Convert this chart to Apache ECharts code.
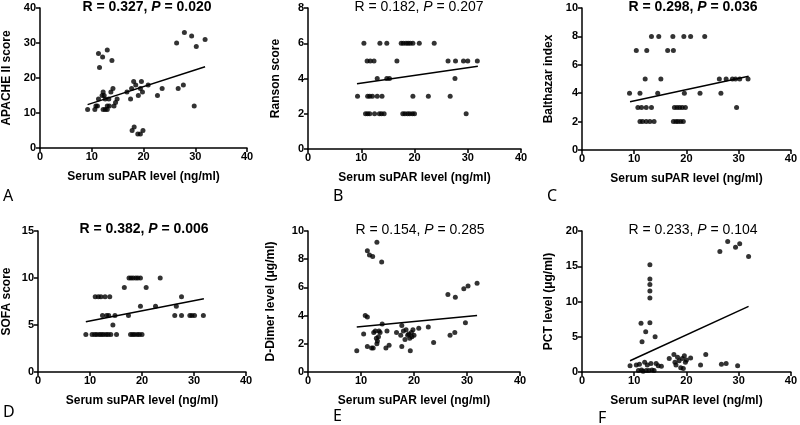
<!DOCTYPE html>
<html><head><meta charset="utf-8">
<script src="https://cdn.jsdelivr.net/npm/echarts@6/dist/echarts.min.js"></script>
<style>html,body{margin:0;padding:0;background:#fff}#c{width:800px;height:425px}</style>
</head><body><div id="c"></div>
<script>
// ---- data ----
const xTicks = [0, 10, 20, 30, 40];
const apacheData = [[9.2,11],[10.6,11],[10.8,12],[11.1,12],[11.3,14],[11.3,27],[11.5,23],[12.1,26],[13.0,28],[13.9,25],
[12.0,15],[12.2,16],[12.4,15],[12.6,14],[12.2,11],[12.6,11],[13.0,12],[13.0,11],[13.3,14],[13.4,12],[13.7,16],[14.1,17],[14.3,12],[14.6,13],[14.9,14],
[16.8,16],[17.5,14],[17.7,17],[18.1,19],[18.5,18],[19.0,15],[19.6,19],[19.4,17],[19.8,16],[20.9,18],[22.7,15],[23.6,17],
[17.8,5],[18.2,6],[18.9,4],[19.4,4],[19.9,5],
[26.4,30],[27.9,33],[29.3,32],[30.2,29],[31.9,31],[26.7,17],[27.7,18],[29.8,12]];
const apacheFit = [[9.2,12.4],[31.9,23.2]];

const ransonData = [[10.5,6],[13.5,6],[14.8,6],[17.5,6],[17.9,6],[18.4,6],[18.8,6],[19.2,6],[19.7,6],[20.9,6],[23.7,6],
[11.1,5],[11.7,5],[12.4,5],[16.7,5],[26.3,5],[27.7,5],[29.2,5],[30.0,5],[31.8,5],
[13.0,4],[14.8,4],[15.3,4],[27.6,4],
[9.3,3],[11.2,3],[11.6,3],[12.1,3],[13.0,3],[13.9,3],[19.7,3],[22.6,3],[26.7,3],
[10.8,2],[11.2,2],[11.6,2],[12.5,2],[13.4,2],[13.8,2],[14.3,2],[17.8,2],[18.2,2],[18.7,2],[19.1,2],[19.6,2],[20.0,2],[29.7,2]];
const ransonFit = [[9.2,3.7],[31.9,4.7]];

const balthazarData = [[13.3,8],[14.7,8],[17.4,8],[19.5,8],[20.8,8],[23.5,8],
[10.4,7],[12.4,7],[16.4,7],[17.5,7],
[12.1,5],[15.1,5],[26.3,5],[27.6,5],[28.8,5],[29.4,5],[30.2,5],[31.8,5],
[9.1,4],[11.1,4],[14.5,4],[19.6,4],[22.6,4],[26.6,4],
[10.7,3],[11.4,3],[12.3,3],[13.3,3],[17.7,3],[18.2,3],[18.7,3],[19.2,3],[19.8,3],[29.6,3],
[11.1,2],[11.6,2],[12.3,2],[13.0,2],[13.8,2],[17.5,2],[18.0,2],[18.4,2],[18.9,2],[19.4,2]];
const balthazarFit = [[9.2,3.4],[31.9,5.2]];

const sofaData = [[17.5,10],[17.9,10],[18.3,10],[18.8,10],[19.2,10],[19.7,10],[23.5,10],
[16.6,9],[20.8,9],
[11.0,8],[11.6,8],[12.1,8],[12.9,8],[13.8,8],[27.6,8],
[19.7,7],[22.6,7],[26.6,7],
[12.4,6],[13.2,6],[13.6,6],[14.8,6],[17.4,6],[26.3,6],[27.6,6],[29.2,6],[29.6,6],[30.1,6],[31.8,6],
[14.4,5],
[9.2,4],[10.4,4],[10.9,4],[11.3,4],[11.8,4],[12.2,4],[12.6,4],[13.1,4],[13.5,4],[14.0,4],[15.1,4],[17.8,4],[18.2,4],[18.6,4],[19.1,4],[19.5,4],[20.0,4]];
const sofaFit = [[9.2,5.35],[31.9,7.8]];

const ddimerData = [[9.2,1.5],[10.5,2.7],[10.8,4.0],[11.2,3.9],[11.2,1.8],[11.2,8.6],[11.6,8.3],[12.2,8.2],[13.0,9.2],[13.9,7.8],
[12.0,1.7],[12.3,1.7],[12.4,2.8],[12.7,2.9],[12.9,2.4],[13.0,2.0],[13.1,2.2],[13.3,2.5],[13.4,2.9],[13.6,2.8],[14.0,3.4],[14.7,1.7],[15.3,1.9],[14.9,2.9],
[16.7,2.8],[17.5,2.6],[17.7,3.3],[17.7,1.8],[18.0,2.9],[18.3,2.3],[18.5,3.0],[18.8,2.6],[19.0,2.7],[19.2,2.4],[19.3,1.5],[19.5,2.8],[19.6,2.5],[19.8,3.0],[20.0,2.6],
[20.9,3.1],[22.7,3.2],[23.7,2.1],[26.4,5.5],[26.8,2.6],[27.7,2.8],[27.8,5.3],[29.4,5.9],[29.7,3.5],[30.2,6.1],[31.9,6.3]];
const ddimerFit = [[9.2,3.2],[31.9,4.0]];

const pctData = [[9.2,0.9],[10.4,1.0],[10.8,0.2],[11.0,1.1],[11.4,0.3],[11.7,0.1],[12.0,1.4],[12.3,0.2],[12.5,1.0],[12.8,0.2],[13.2,1.2],[13.4,0.3],[13.8,0.2],[14.2,1.2],[14.6,0.9],[15.2,0.8],
[11.3,6.9],[11.5,4.3],[12.2,5.7],[13.0,7.0],[14.0,5.0],[13.0,10.5],[13.0,11.5],[13.0,12.4],[13.0,13.2],[13.0,15.2],
[16.7,1.9],[17.6,2.5],[17.8,1.4],[18.0,1.0],[18.3,2.1],[18.6,1.6],[18.9,0.6],[19.2,1.9],[19.4,0.5],[19.6,2.3],[19.8,1.4],[20.0,1.7],[20.8,2.0],
[22.7,1.0],[23.7,2.5],[26.4,17.1],[26.7,1.1],[27.6,1.2],[27.9,18.5],[29.4,17.7],[29.8,0.9],[30.2,18.2],[31.9,16.4]];
const pctFit = [[9.2,1.6],[31.9,9.3]];

const yNames = ['APACHE II score','Ranson score','Balthazar index','SOFA score','D-Dimer level (\u03bcg/ml)','PCT level (\u03bcg/ml)'];
const yMax = [40, 8, 10, 15, 10, 20];
const yStep = [10, 2, 2, 5, 2, 5];
const rVals = ['0.327','0.182','0.298','0.382','0.154','0.233'];
const pVals = ['0.020','0.207','0.036','0.006','0.285','0.104'];
const boldStat = [true,false,true,true,false,false];
const letters = ['A','B','C','D','E','F'];
const xName = 'Serum suPAR level (ng/ml)';
const allData = [apacheData, ransonData, balthazarData, sofaData, ddimerData, pctData];
const allFit = [apacheFit, ransonFit, balthazarFit, sofaFit, ddimerFit, pctFit];

// ---- layout ----
const grids = [
  {left:37, top:8, width:210, height:140},
  {left:308, top:8, width:213, height:141},
  {left:582, top:8, width:212, height:142},
  {left:33, top:231, width:213, height:141},
  {left:308, top:231, width:212, height:141},
  {left:582, top:231, width:211, height:141}
];
const yNameGap = [27, 26, 27, 25, 31, 27];
const titlePos = [[147,7],[419,7],[693,7],[144,229],[420,230],[693,230]];
const letterPos = [[3,196],[333,196],[547,196],[3,412],[333,416],[598,418]];

const FONT = '"Liberation Sans", Arial, sans-serif';
const axisLine = {show:true, onZero:false, lineStyle:{color:'#000', width:1.5}};
const axisTick = {show:true, inside:false, length:4, lineStyle:{color:'#000', width:1.5}};
const axisLabel = {color:'#000', fontWeight:'bold', fontSize:11, fontFamily:FONT, margin:4};

const xAxis = [], yAxis = [], series = [], graphic = [];
grids.forEach((g,i)=>{
  xAxis.push({gridIndex:i, type:'value', min:0, max:40, interval:10, axisLine, axisTick,
    axisLabel:Object.assign({}, axisLabel, {margin:3}), splitLine:{show:false},
    name:xName, nameLocation:'middle', nameGap:23,
    nameTextStyle:{color:'#000', fontWeight:'bold', fontSize:12, fontFamily:FONT}});
  yAxis.push({gridIndex:i, type:'value', min:0, max:yMax[i], interval:yStep[i], axisLine, axisTick,
    axisLabel, splitLine:{show:false},
    name:yNames[i], nameLocation:'middle', nameGap:yNameGap[i], nameRotate:90,
    nameTextStyle:{color:'#000', fontWeight:'bold', fontSize:12, fontFamily:FONT}});
  series.push({type:'scatter', xAxisIndex:i, yAxisIndex:i, data:allData[i], symbol:'circle', symbolSize:5,
    itemStyle:{color:'#000'}, silent:true, z:3});
  series.push({type:'line', xAxisIndex:i, yAxisIndex:i, data:allFit[i], symbol:'none',
    lineStyle:{color:'#000', width:1.5}, silent:true, z:2});
  const w = boldStat[i] ? 'bold' : 'normal';
  graphic.push({type:'text', x:titlePos[i][0], y:titlePos[i][1],
    style:{text:'{a|R = '+rVals[i]+', }{b|P}{a| = '+pVals[i]+'}', textAlign:'center', textVerticalAlign:'middle',
      rich:{a:{fontSize:14, fontWeight:w, fontFamily:FONT, fill:'#000'}, b:{fontSize:14, fontWeight:w, fontStyle:'italic', fontFamily:FONT, fill:'#000'}}}});
  graphic.push({type:'text', x:letterPos[i][0], y:letterPos[i][1],
    style:{text:letters[i], fontSize:16, fontFamily:'"Noto Sans", sans-serif', fill:'#000', textVerticalAlign:'middle'}});
});

const chart = echarts.init(document.getElementById('c'), null, {renderer:'canvas'});
chart.setOption({animation:false, backgroundColor:'#fff', grid:grids, xAxis, yAxis, series, graphic});
</script></body></html>
